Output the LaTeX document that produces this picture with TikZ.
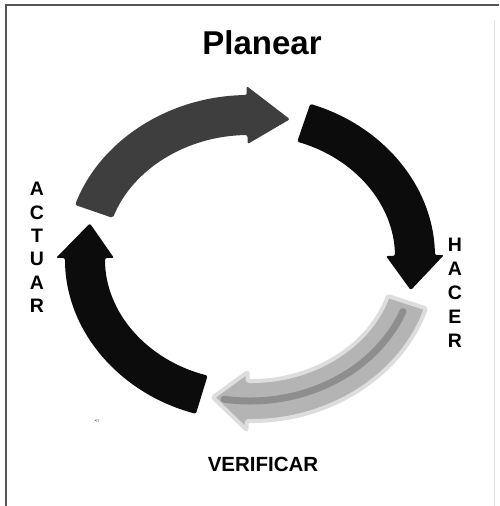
\documentclass[tikz,border=0pt]{standalone}
\usepackage{fontspec}
\setmainfont{Liberation Sans}
\usetikzlibrary{positioning}
\definecolor{pdcaplan}{HTML}{3E3E3E}
\definecolor{pdcadark}{HTML}{0C0C0C}
\definecolor{pdcaverif}{HTML}{B4B4B4}
\definecolor{pdcacore}{HTML}{767676}
\definecolor{pdcaframe}{HTML}{555555}
% curved arrow on the cycle: #1 tail angle, #2 head base angle, #3 tip angle, #4 fill options
\newcommand{\cyclearrow}[4]{%
  \fill[rounded corners=2pt,#4] ({185*cos(#1)},{163*sin(#1)})
    arc[start angle=#1, end angle=#2, x radius=185, y radius=163]
    -- ({194*cos(#2)},{172*sin(#2)})
    -- ({165*cos(#3)},{143*sin(#3)})
    -- ({136*cos(#2)},{114*sin(#2)})
    -- ({145*cos(#2)},{123*sin(#2)})
    arc[start angle=#2, end angle=#1, x radius=145, y radius=123]
    -- cycle;}

\begin{document}
\begin{tikzpicture}[x=1pt,y=1pt]
  \useasboundingbox (-250,-248) rectangle (249,258);

  % ---- Frame ---------------------------------------------------
  \draw[pdcaframe,line width=2pt] (-244,-248) -- (-244,253) -- (249,253);
  \draw[black!10,line width=1pt] (244,238) -- (244,-248);

  % ============================================================
  %  The four arrows of the cycle (clockwise)
  % ============================================================
  % Planear -> Hacer
  \cyclearrow{161}{91}{76}{fill=pdcaplan}
  % Hacer -> Verificar
  \cyclearrow{71}{1}{-13}{fill=pdcadark}
  % Verificar -> Actuar (faded)
  \cyclearrow{-18}{-91}{-103}{fill=pdcaverif,draw=pdcaverif!45,line width=4pt}
  \draw[pdcacore,line width=7pt,line cap=round,opacity=0.6]
    ({165*cos(-22)},{143*sin(-22)})
    arc[start angle=-22, end angle=-99, x radius=165, y radius=143];
  % Actuar -> Planear
  \cyclearrow{253}{180}{166}{fill=pdcadark}

  % ============================================================
  %  Labels
  % ============================================================
  \node[font=\fontsize{33}{36}\selectfont\bfseries] (planear) at (12,215) {Planear};
  \node[font=\fontsize{19.5}{23.4}\selectfont\bfseries,align=center] (actuar) at (-213,10.5)
    {A\\C\\T\\U\\A\\R};
  \node[font=\fontsize{19.5}{24}\selectfont\bfseries,align=center] (hacer) at (205,-35)
    {H\\A\\C\\E\\R};
  \node[font=\fontsize{20.5}{24}\selectfont\bfseries] (verificar) at (13,-206) {VERIFICAR};
  \node[font=\fontsize{5}{6}\selectfont,text=black!60] (mark) at (-153,-163) {•n};

\end{tikzpicture}
\end{document}
